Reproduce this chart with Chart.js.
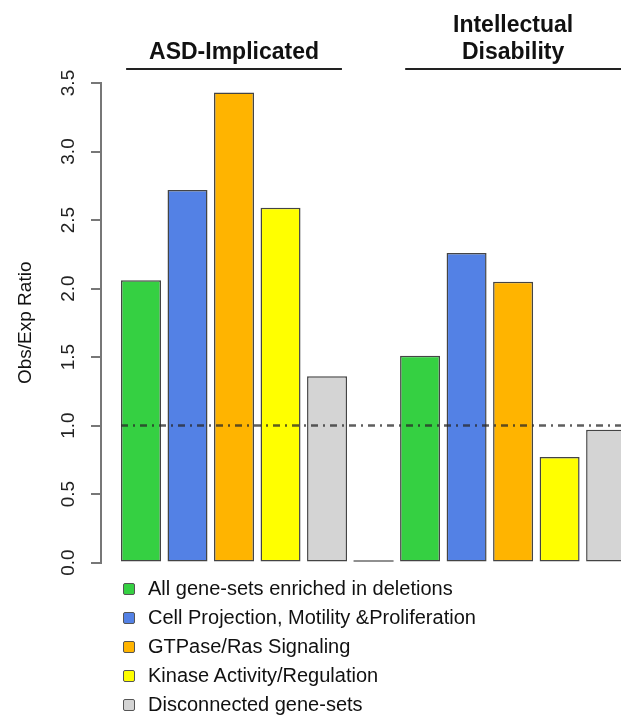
<!DOCTYPE html>
<html>
<head>
<meta charset="utf-8">
<script src="https://cdn.jsdelivr.net/npm/chart.js@4"></script>
<style>
  body { margin: 0; background: #fff; font-family: "Liberation Sans", Arial, sans-serif; overflow: hidden; }
  #wrap { position: relative; width: 621px; height: 583px; }
  #legend { padding-left: 123px; margin-top: -9px; position: relative; }
  .item { height: 29px; display: flex; align-items: center; font-size: 20px; color: #111; }
  .box { width: 10px; height: 10px; border: 1px solid #555; border-radius: 2px; margin-right: 13px; }
</style>
</head>
<body>
<div id="wrap"><canvas id="chart"></canvas></div>
<div id="legend"></div>
<script>
// Obs/Exp ratio par groupe de gènes

const groupTitles = [["ASD-Implicated"], ["Intellectual", "Disability"]];
const seriesNames = [
  "All gene-sets enriched in deletions",
  "Cell Projection, Motility &Proliferation",
  "GTPase/Ras Signaling",
  "Kinase Activity/Regulation",
  "Disconnected gene-sets",
];
const seriesColors = ["#35d042", "#5381e5", "#ffb400", "#ffff00", "#d4d4d4"];
const asdValues = [2.06, 2.72, 3.43, 2.59, 1.36];
const idValues = [1.51, 2.26, 2.05, 0.77, 0.97];
const spacerValue = 0;
const referenceRatio = 1.0;
const yLabel = "Obs/Exp Ratio";

const groupValues = [asdValues, idValues];
const slotsPerGroup = seriesNames.length + 1;

// un dataset par série, une barre par groupe
const datasets = seriesNames.map((name, s) => ({
  label: name,
  data: groupValues.map((vals, g) => ({ x: g * slotsPerGroup + s + 1, y: vals[s] })),
  backgroundColor: seriesColors[s],
  borderColor: "#444",
  borderWidth: 1.5,
  borderSkipped: false,
}));
datasets.push({
  label: "",
  data: [{ x: slotsPerGroup, y: spacerValue }],
  backgroundColor: "#222",
  borderWidth: 0,
  minBarLength: 2,
});

const headerPlugin = {
  id: "headers",
  afterDatasetsDraw(chart) {
    const ctx = chart.ctx;
    const x = chart.scales.x;
    const y = chart.scales.y;
    const area = chart.chartArea;

    // ligne de référence (ratio = 1)
    const first = chart.getDatasetMeta(0).data[0];
    const yRef = y.getPixelForValue(referenceRatio);
    ctx.save();
    ctx.strokeStyle = "rgba(40,40,40,0.75)";
    ctx.lineWidth = 2.5;
    ctx.setLineDash([7, 5, 2, 5]);
    ctx.beginPath();
    ctx.moveTo(first.x - first.width / 2, yRef);
    ctx.lineTo(area.right, yRef);
    ctx.stroke();
    ctx.restore();

    // titres de groupes
    ctx.save();
    ctx.font = "bold 23px 'Liberation Sans', Arial, sans-serif";
    ctx.fillStyle = "#111";
    ctx.textAlign = "center";
    ctx.textBaseline = "alphabetic";
    groupTitles.forEach((lines, g) => {
      const center = g * slotsPerGroup + (seriesNames.length + 1) / 2;
      const cx = x.getPixelForValue(center);
      lines.forEach((line, i) => {
        ctx.fillText(line, cx, 59 - (lines.length - 1 - i) * 27);
      });
      ctx.strokeStyle = "#222";
      ctx.lineWidth = 2;
      ctx.beginPath();
      ctx.moveTo(x.getPixelForValue(center - 2.32), 69);
      ctx.lineTo(x.getPixelForValue(center + 2.32), 69);
      ctx.stroke();
    });
    ctx.restore();
  },
};

new Chart(document.getElementById("chart"), {
  type: "bar",
  data: { datasets: datasets },
  options: {
    responsive: true,
    maintainAspectRatio: false,
    animation: false,
    grouped: false,
    barPercentage: 0.86,
    categoryPercentage: 1,
    layout: { padding: { top: 83, bottom: 0, left: 0, right: 0 } },
    plugins: { legend: { display: false }, tooltip: { enabled: false } },
    scales: {
      x: {
        type: "linear",
        display: false,
        offset: false,
        min: 0.14,
        max: 11.32,
        ticks: { stepSize: 1 },
        afterBuildTicks: (s) => {
          s.ticks = s.ticks.filter((t) => Number.isInteger(t.value));
        },
      },
      y: {
        min: 0,
        max: 3.5,
        afterFit: (s) => {
          s.width = 101;
        },
        border: { display: true, color: "#777", width: 2 },
        grid: {
          drawOnChartArea: false,
          drawTicks: true,
          tickLength: 10,
          color: "#777",
          lineWidth: 2,
        },
        ticks: {
          stepSize: 0.5,
          minRotation: 90,
          maxRotation: 90,
          crossAlign: "center",
          padding: 9,
          color: "#222",
          font: { size: 19, family: "'Liberation Sans', Arial, sans-serif" },
          callback: (v) => Number(v).toFixed(1),
        },
        title: {
          display: true,
          text: yLabel,
          color: "#111",
          padding: { top: 14, bottom: 0 },
          font: { size: 19, family: "'Liberation Sans', Arial, sans-serif" },
        },
      },
    },
  },
  plugins: [headerPlugin],
});

// légende
const legend = document.getElementById("legend");
seriesNames.forEach((name, s) => {
  const row = document.createElement("div");
  row.className = "item";
  row.innerHTML = `<span class="box" style="background:${seriesColors[s]}"></span>${name}`;
  legend.appendChild(row);
});
</script>
</body>
</html>
